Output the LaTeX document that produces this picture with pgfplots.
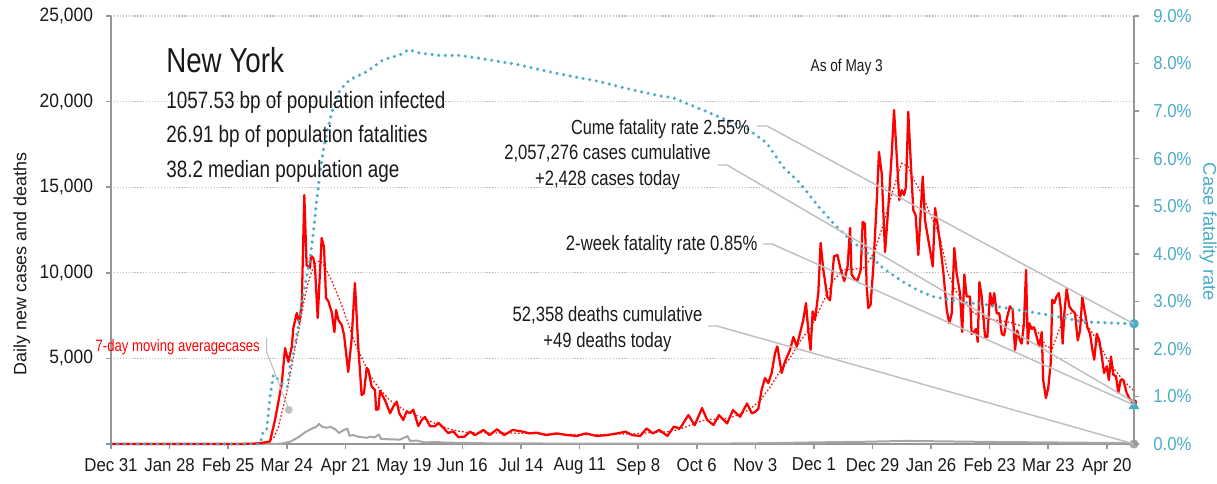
\documentclass[border=0pt]{standalone}
\usepackage{fontspec}
\setmainfont{Liberation Sans}[FakeStretch=0.8]
\newfontfamily\wide{Liberation Sans}
\newfontfamily\tickfont{Liberation Sans}[FakeStretch=0.9]
\usepackage{pgfplots}
\pgfplotsset{compat=1.18}
\definecolor{cfr}{HTML}{4BACC6}
\definecolor{axgray}{HTML}{969696}
\definecolor{dgray}{HTML}{A6A6A6}
\definecolor{leader}{HTML}{BFBFBF}
\definecolor{gridgray}{HTML}{BFBFBF}
\definecolor{txt}{HTML}{1A1A1A}
\begin{document}
\begin{tikzpicture}
\pgfplotsset{
  common/.style={
    scale only axis, width=767.25pt, height=321pt,
    xmin=0, xmax=489,
    scaled x ticks=false, scaled y ticks=false,
    axis line style={axgray, line width=1.4pt},
    every tick/.style={axgray, line width=1.2pt},
    tick align=outside, major tick length=4pt,
    tick label style={font=\tickfont\fontsize{14.5}{17}\selectfont},
    clip=false,
  }
}
\begin{axis}[common,
  ymin=0, ymax=25000,
  axis x line*=bottom, axis y line*=left,
  xtick={0,28,...,476},
  xticklabels={Dec 31,Jan 28,Feb 25,Mar 24,Apr 21,May 19,Jun 16,Jul 14,Aug 11,Sep 8,Oct 6,Nov 3,Dec 1,Dec 29,Jan 26,Feb 23,Mar 23,Apr 20},
  ytick={0,5000,10000,15000,20000,25000},
  yticklabels={,5{,}000,10{,}000,15{,}000,20{,}000,25{,}000},
  ymajorgrids,
  major grid style={gridgray, line width=0.8pt, dash pattern=on 0.9pt off 1.3pt},
  xticklabel style={text=txt, yshift=-3pt, font=\tickfont\fontsize{14}{17}\selectfont},
  yticklabel style={text=txt, xshift=-6pt},
]
\coordinate (O) at (rel axis cs:0,0);
% deaths
\addplot[dgray, line width=1.5pt, line join=round] coordinates {
(0,0)(78,0)(82,30)(86,150)(90,430)(93,700)(96,900)(98,1000)(99.5,1170)(101,1000)(103,950)(105,1000)(107,880)(109,640)(111,800)(113,900)(114,480)(116,520)(118,430)(120,400)(122,360)(124,430)(126,380)(128,560)(129,300)(132,280)(135,270)(138,250)(141.7,460)(143,170)(146,200)(150,90)(155,120)(160,80)(170,60)(180,40)(200,30)(260,20)(300,30)(320,60)(340,100)(360,130)(380,180)(400,150)(420,120)(440,100)(460,80)(480,60)(489,49)};
% 7-day moving average
\addplot[red, line width=0.9pt, dash pattern=on 1.2pt off 1.6pt] coordinates {
(0,0)(70,0)(75,100)(78,400)(80,1000)(82,2000)(84,3000)(86,4300)(88,5600)(90,6800)(92,8200)(94,9300)(96,10100)(98,10600)(100,10700)(102,10400)(104,9900)(106,9400)(108,8800)(110,8200)(112,7500)(114,6800)(116,6100)(118,5500)(120,5000)(122,4500)(124,4000)(126,3600)(128,3300)(130,3000)(133,2600)(136,2300)(140,2000)(145,1750)(150,1450)(155,1200)(160,950)(165,780)(170,680)(180,650)(190,640)(200,620)(210,580)(220,550)(230,530)(240,570)(250,600)(260,680)(265,700)(270,800)(275,1000)(280,1250)(285,1450)(290,1450)(295,1500)(300,1700)(305,2000)(310,2500)(315,3300)(320,4300)(325,5100)(330,6100)(335,6900)(340,8200)(345,9500)(350,10200)(355,10200)(360,10300)(365,11200)(370,13200)(375,15300)(378,16400)(381,16200)(384,15400)(388,14500)(392,13300)(396,12200)(400,10000)(404,8900)(408,8300)(412,7700)(416,7400)(420,7300)(425,7200)(430,7100)(435,6900)(440,6900)(444,6400)(447,5700)(450,5600)(453,6600)(456,7500)(460,7700)(464,7300)(468,6700)(472,5900)(476,5000)(480,4300)(484,3700)(489,3100)};
% daily cases
\addplot[red, line width=1.7pt, line join=round] coordinates {
(0,0)(62,0)(68,20)(72,60)(76,150)(78.4,1400)(80.8,2980)(81.6,3500)(83.2,5600)(84.8,4800)(86.4,5670)(87.2,6800)(88.8,7650)(90,7070)(91.2,8240)(92.4,14540)(93.5,10450)(95.1,10280)(95.6,11000)(96.7,10860)(97.5,10340)(98.8,7360)(100.7,12030)(101.8,11520)(102.8,8530)(103.9,8340)(105.5,7700)(106.8,6540)(107.6,7830)(108.7,7240)(110.3,6950)(111.4,6370)(113.4,4210)(115,6080)(116.6,9400)(118.2,5690)(119.8,2860)(120.9,2960)(122.2,4440)(123,4340)(124.6,3360)(126.2,3150)(126.7,2000)(127.8,2030)(128.6,3100)(131,2550)(133.4,1800)(135,2200)(136.6,2470)(137.8,1800)(139.7,1400)(141.3,1900)(142.9,1800)(144.5,2000)(146.9,1040)(148.5,1400)(150.1,1580)(152.5,1040)(154.9,1040)(156.5,1230)(158.8,950)(161.2,640)(163.6,740)(166,410)(169,430)(171.6,720)(174,520)(178,820)(181,520)(184.5,860)(188,520)(192,820)(197,720)(200,620)(203.5,660)(208,520)(213,620)(218,520)(222.7,470)(227,620)(232,470)(237,520)(242,620)(246,720)(249,520)(253,470)(256,910)(259,620)(262,820)(266,470)(269,1010)(272,910)(276,1690)(279,1100)(282.5,2100)(285,1400)(288,1110)(290.6,1690)(294.5,1200)(297.3,1980)(300.7,1590)(304,2370)(306.3,1790)(307.8,1870)(309.4,2050)(311,3150)(312.6,3850)(314.2,3560)(315.8,4150)(317.4,5310)(318.5,5700)(320.6,4150)(322.2,4830)(324.6,5500)(326.2,6250)(327.8,5700)(329.3,6440)(330.9,7240)(332.2,8230)(333.3,6630)(334.4,5500)(335.4,7750)(336.5,7240)(338.1,8820)(339.2,11740)(340.5,10180)(342.4,8590)(343.7,8400)(345.6,10960)(347.2,11050)(348.8,10180)(350.5,9520)(352.1,10370)(353.3,12620)(354,9910)(355.6,9610)(356.7,9520)(358.4,10180)(359.3,12970)(360.4,12870)(361.2,9250)(362,7940)(363.1,8140)(364.4,10370)(366,14080)(367.1,17060)(368.4,15800)(370,11210)(371.6,13880)(373.2,16970)(374.3,19510)(375.6,16780)(376.8,14250)(378,14830)(379.1,14540)(380,15030)(381.1,19400)(382.4,16200)(383.5,13660)(384.6,13370)(385.9,11040)(387,13470)(388,15620)(389.1,13080)(391.5,11330)(392.8,10370)(393.9,13780)(395,12900)(396.3,11720)(397.9,9990)(399.5,7830)(400.7,7050)(401.9,7630)(403.1,11450)(404.2,9990)(405.8,8820)(406.9,6540)(407.9,9900)(409,8620)(410.6,8620)(411.4,6430)(412.5,6540)(413.5,6720)(414.3,5960)(415.1,9460)(416.2,8620)(417.8,6250)(418.9,6250)(420.2,8820)(421.3,8040)(422.2,8820)(423.4,7630)(424.6,7630)(425.8,6430)(426.9,6340)(428.2,7340)(429.7,8040)(431,7830)(432.1,5500)(433.2,6630)(434.5,6050)(435.3,5860)(436.4,7050)(437.4,10170)(438.2,5860)(439,7050)(440.1,6720)(441.2,6820)(442.5,6250)(443.7,5700)(444.9,6540)(445.6,3740)(446.9,2690)(448,3270)(449.2,4740)(449.9,8430)(450.9,8230)(452,8620)(453.1,8820)(453.9,8040)(454.9,5860)(455.7,7630)(456.8,9050)(458.1,8040)(459.2,7830)(460.8,7630)(462.1,6050)(463.2,6630)(464.3,8580)(465.6,7630)(466.7,6820)(468,6430)(469.1,5500)(470,4920)(471.2,6430)(472.4,6050)(473.6,5110)(474.7,4150)(476,4540)(477,3740)(478,5110)(479.1,4050)(480.4,3950)(481.5,2980)(482.6,3740)(483.9,3740)(485.5,2980)(487.1,2600)(489,2428)};
% markers
\addplot[only marks, mark=*, mark size=2.7pt, color=leader] coordinates {(85,1990)};
\addplot[only marks, mark=*, mark size=2.2pt, color=red] coordinates {(489,2428)};
\addplot[only marks, mark=*, mark size=3.2pt, color=dgray] coordinates {(489,0)};
\end{axis}
\begin{axis}[common,
  ymin=0, ymax=9,
  axis y line*=right, axis x line=none,
  ytick={0,1,2,3,4,5,6,7,8,9},
  yticklabels={0.0\%,1.0\%,2.0\%,3.0\%,4.0\%,5.0\%,6.0\%,7.0\%,8.0\%,9.0\%},
  yticklabel style={text=cfr, xshift=7pt, font=\tickfont\fontsize{14}{17}\selectfont},
]
\addplot[cfr, line width=2.6pt, line cap=round, dash pattern=on 0pt off 5pt] coordinates {
(0,0)(71.2,0)(72.8,0.26)(74.4,0.29)(76,1.0)(77.6,1.45)(80,1.35)(82.4,1.24)(84.3,1.2)(85.6,1.63)(87.2,1.91)(89.5,2.47)(91.2,2.96)(93.5,3.52)(95.1,3.87)(96.7,4.43)(98.3,5.13)(99.9,5.69)(101.5,6.18)(103.1,6.54)(106.3,7.09)(109.5,7.45)(114.2,7.66)(122.2,7.83)(130.2,8.08)(138.1,8.18)(142.1,8.29)(147.7,8.22)(157,8.17)(167,8.17)(176,8.11)(186,8.04)(195.5,7.97)(205,7.87)(214.6,7.78)(224,7.70)(233.7,7.62)(243.3,7.51)(252.9,7.41)(262.4,7.32)(268.8,7.28)(275.2,7.16)(284.7,6.99)(294.3,6.81)(303.9,6.64)(313.4,6.33)(321.2,5.83)(329.3,5.49)(337.5,5.03)(345.1,4.65)(353.3,4.29)(361.4,4.02)(369,3.70)(377.2,3.45)(385.3,3.24)(392.9,3.10)(401.1,3.03)(409.2,2.97)(416.8,2.94)(433.1,2.82)(448.9,2.71)(464.6,2.57)(480.9,2.54)(489,2.53)};
\addplot[only marks, mark=*, mark size=3.3pt, color=cfr] coordinates {(489,2.53)};
\addplot[only marks, mark=triangle*, mark size=4.2pt, color=cfr] coordinates {(489,0.8)};
\end{axis}
\begin{scope}[shift={(O)}, xshift=-83.25pt, yshift=333pt, x=0.75pt, y=-0.75pt]
\node[anchor=base west, text=txt, font=\fontsize{26}{30}\selectfont, inner sep=0pt] at (166,72.7) {New York};
\node[anchor=base west, text=txt, font=\fontsize{17.7}{21}\selectfont, inner sep=0pt] at (166,108.3) {1057.53 bp of population infected};
\node[anchor=base west, text=txt, font=\fontsize{17.7}{21}\selectfont, inner sep=0pt] at (166,142.7) {26.91 bp of population fatalities};
\node[anchor=base west, text=txt, font=\fontsize{17.7}{21}\selectfont, inner sep=0pt] at (166,177.7) {38.2 median population age};
\node[anchor=base, text=txt, font=\fontsize{12.8}{15}\selectfont, inner sep=0pt] at (846.7,71.7) {As of May 3};
\node[anchor=base east, text=txt, font=\fontsize{15.3}{18}\selectfont, inner sep=0pt] at (750,134.3) {Cume fatality rate 2.55\%};
\node[anchor=base, text=txt, font=\fontsize{15.6}{18}\selectfont, inner sep=0pt] at (607.5,160) {2,057,276 cases cumulative};
\node[anchor=base, text=txt, font=\fontsize{15.6}{18}\selectfont, inner sep=0pt] at (607.5,186) {+2,428 cases today};
\node[anchor=base east, text=txt, font=\fontsize{15.6}{18}\selectfont, inner sep=0pt] at (757.7,250.7) {2-week fatality rate 0.85\%};
\node[anchor=base, text=txt, font=\fontsize{15.6}{18}\selectfont, inner sep=0pt] at (607.5,321.7) {52,358 deaths cumulative};
\node[anchor=base, text=txt, font=\fontsize{15.6}{18}\selectfont, inner sep=0pt] at (607.5,347.3) {+49 deaths today};
\node[anchor=base east, text=red, font=\fontsize{12.3}{14}\selectfont, inner sep=0pt] at (260,351.7) {7-day moving averagecases};
\draw[leader, line width=0.8pt] (266.7,338) -- (266.7,352) -- (289,410);
\draw[leader, line width=1.1pt] (757,126) -- (767,126) -- (1134,324);
\draw[leader, line width=1.1pt] (718,165) -- (727,165) -- (1134,402);
\draw[leader, line width=1.1pt] (763,244) -- (772,244) -- (1134,405);
\draw[leader, line width=1.1pt] (708,326) -- (717,326) -- (1134,444);
\node[rotate=90, text=txt, font=\wide\fontsize{13.4}{16}\selectfont, inner sep=0pt] at (21.7,264) {Daily new cases and deaths};
\node[rotate=-90, text=cfr, font=\wide\fontsize{13.8}{16}\selectfont, inner sep=0pt] at (1208,232) {Case fatality rate};
\end{scope}
\pgfresetboundingbox
\begin{scope}[shift={(O)}, xshift=-83.25pt, yshift=333pt, x=0.75pt, y=-0.75pt]
\path[use as bounding box] (0,0) rectangle (1217,484);
\end{scope}
\end{tikzpicture}
\end{document}
